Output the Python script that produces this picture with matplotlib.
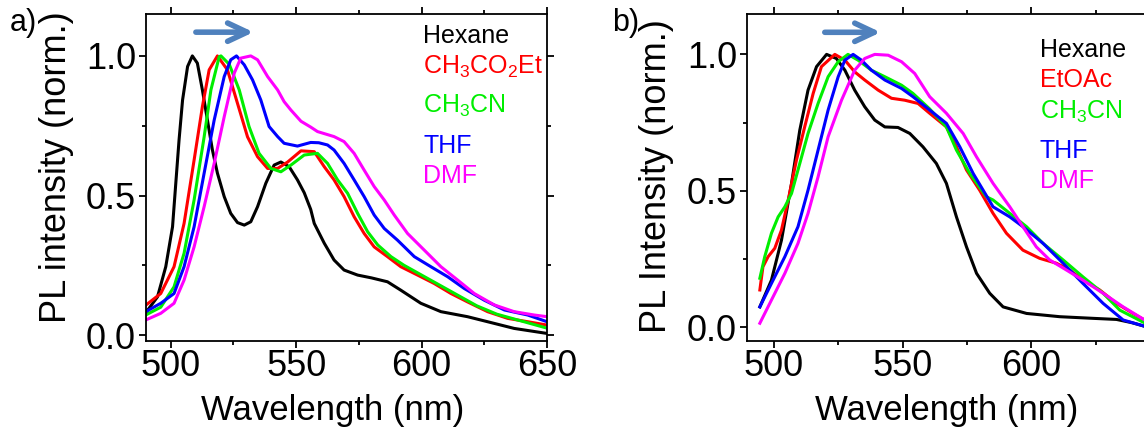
import matplotlib
matplotlib.use("Agg")
import matplotlib.pyplot as plt
from matplotlib.ticker import MultipleLocator, FixedLocator

plt.rcParams["font.family"] = ["Liberation Sans", "DejaVu Sans"]
plt.rcParams["mathtext.default"] = "regular"

# ---- panel a) data (read off the reference) ----
hex_a_x = [490, 494.7, 498, 500.7, 502, 503.3, 504.7, 506.7, 508.6, 510.6, 512.6, 514.6, 516.6,
           518.6, 521.3, 523.9, 526.6, 529.3, 531.9, 534.6, 537.9, 541.2, 543.9, 547.2, 550.5,
           553.2, 555.8, 557.2, 561.2, 565.1, 569.1, 574.5, 580, 586.4, 591.7, 599.7, 607.7,
           618.3, 626.3, 636.9, 650]
hex_a_y = [0.08, 0.137, 0.245, 0.388, 0.544, 0.699, 0.842, 0.962, 1.0, 0.974, 0.878, 0.771, 0.663,
           0.58, 0.496, 0.436, 0.403, 0.394, 0.406, 0.46, 0.544, 0.609, 0.62, 0.603, 0.556,
           0.51, 0.45, 0.40, 0.329, 0.269, 0.233, 0.215, 0.205, 0.191, 0.161, 0.114, 0.084,
           0.066, 0.048, 0.024, 0.006]

etac_a_x = [490, 496, 501.3, 505.3, 509.3, 512.6, 515.3, 518.6, 522.6, 526.6, 530.6, 534.6, 538.6,
            542.6, 546.6, 551.9, 557.2, 561.2, 565.1, 569.1, 573.1, 577.1, 581.1, 586.4, 591.7,
            598.4, 605, 611.7, 618.3, 626.3, 634.3, 642.3, 650]
etac_a_y = [0.107, 0.149, 0.245, 0.40, 0.627, 0.818, 0.95, 1.0, 0.95, 0.83, 0.71, 0.639, 0.597,
            0.597, 0.62, 0.66, 0.657, 0.603, 0.556, 0.496, 0.424, 0.364, 0.316, 0.281, 0.245,
            0.215, 0.185, 0.149, 0.119, 0.084, 0.06, 0.048, 0.036]

acn_a_x = [490, 496, 501.3, 505.3, 509.3, 513.3, 516, 519.3, 520, 523.3, 527.3, 531.2, 535.2,
           539.9, 543.9, 547.9, 553.2, 558.5, 562.5, 566.5, 570.5, 574.5, 578.5, 582.5, 587.8,
           593, 600, 607, 615, 622, 630, 640, 650]
acn_a_y = [0.072, 0.10, 0.173, 0.293, 0.484, 0.71, 0.878, 0.997, 1.0, 0.97, 0.878, 0.747, 0.651,
           0.597, 0.585, 0.609, 0.645, 0.651, 0.615, 0.556, 0.508, 0.436, 0.37, 0.323, 0.281,
           0.25, 0.215, 0.18, 0.14, 0.105, 0.075, 0.05, 0.025]

thf_a_x = [490, 496, 501.3, 505.3, 509.3, 513.3, 517.3, 521.3, 523.9, 526.2, 529.3, 532.6, 535.9,
           539.2, 542.6, 545.2, 550.5, 555.8, 559, 562.5, 565.1, 569.1, 573.1, 577.1, 581.1,
           585.1, 590.4, 597.1, 603.7, 610.4, 617, 625, 633, 642.3, 650]
thf_a_y = [0.084, 0.114, 0.149, 0.245, 0.388, 0.58, 0.77, 0.926, 0.986, 1.0, 0.968, 0.914, 0.842,
           0.747, 0.711, 0.687, 0.677, 0.69, 0.689, 0.681, 0.663, 0.615, 0.556, 0.496, 0.43,
           0.382, 0.34, 0.281, 0.245, 0.209, 0.167, 0.125, 0.09, 0.072, 0.048]

dmf_a_x = [490, 496, 501.3, 505.3, 509.3, 513.3, 517.3, 521.3, 525.3, 527.9, 531.9, 534.6, 538.6,
           542.6, 545.2, 547.9, 551.9, 555.8, 558.5, 565.1, 569.1, 573.1, 577.1, 581.1, 585.1,
           589.1, 594.4, 601, 607.7, 614.4, 621, 629, 636.9, 644.9, 650]
dmf_a_y = [0.054, 0.078, 0.114, 0.197, 0.316, 0.46, 0.615, 0.782, 0.938, 0.992, 1.0, 0.986, 0.926,
           0.878, 0.836, 0.806, 0.766, 0.745, 0.729, 0.711, 0.693, 0.651, 0.591, 0.532, 0.484,
           0.43, 0.364, 0.305, 0.245, 0.197, 0.149, 0.108, 0.084, 0.072, 0.066]

# ---- panel b) data ----
hex_b_x = [494.6, 499.1, 503, 506.9, 510.1, 513.3, 516.6, 520.5, 524.3, 527.6, 531.4, 535.3, 539.2,
           543.1, 548.2, 552.8, 557.9, 563.1, 567, 570.9, 574.8, 578.7, 583.8, 589, 598.1, 611,
           623.9, 633, 639, 645]
hex_b_y = [0.074, 0.172, 0.319, 0.527, 0.722, 0.869, 0.955, 1.0, 0.985, 0.942, 0.869, 0.808, 0.759,
           0.734, 0.732, 0.71, 0.661, 0.6, 0.527, 0.404, 0.294, 0.197, 0.124, 0.074, 0.05, 0.038,
           0.032, 0.028, 0.016, 0.0]

etac_b_x = [494.6, 495.8, 497.8, 500.4, 503, 505.6, 508.8, 512, 515.3, 518.5, 523.7, 527.6, 531.4,
            535.3, 540.5, 545.7, 550.8, 556, 560.5, 567, 570.9, 574.8, 579.9, 585.1, 590.3, 596.7,
            603.2, 609.7, 614.9, 620, 626.5, 633, 639.4, 645]
etac_b_y = [0.136, 0.221, 0.258, 0.289, 0.356, 0.466, 0.612, 0.734, 0.857, 0.955, 1.0, 0.979, 0.936,
            0.906, 0.869, 0.839, 0.832, 0.82, 0.784, 0.734, 0.661, 0.576, 0.502, 0.417, 0.344, 0.282,
            0.252, 0.234, 0.209, 0.172, 0.136, 0.087, 0.05, 0.02]

acn_b_x = [494.6, 496.5, 499.1, 501.7, 504.3, 506.9, 510.1, 513.3, 517.2, 521.1, 525, 528.8, 532.7,
           537.9, 543.1, 549.6, 554, 560.5, 567, 570.9, 576.1, 582.5, 585.1, 591.6, 598.1, 604.5,
           612.3, 620, 627.8, 634.3, 645]
acn_b_y = [0.179, 0.258, 0.344, 0.404, 0.441, 0.49, 0.6, 0.71, 0.82, 0.918, 0.973, 1.0, 0.979,
           0.942, 0.918, 0.887, 0.857, 0.80, 0.734, 0.649, 0.563, 0.478, 0.466, 0.417, 0.368, 0.307,
           0.246, 0.184, 0.124, 0.062, 0.01]

thf_b_x = [494.6, 499.1, 504.3, 509.4, 513.3, 517.2, 521.1, 525, 527.6, 530.8, 534, 537.9, 543.1,
           549.6, 554, 560.5, 567, 572.2, 577.4, 585.1, 591.6, 596.7, 604.5, 612.3, 620, 627.8,
           635.6, 645]
thf_b_y = [0.074, 0.16, 0.258, 0.368, 0.502, 0.649, 0.796, 0.918, 0.979, 1.0, 0.979, 0.942, 0.906,
           0.875, 0.845, 0.796, 0.747, 0.661, 0.563, 0.441, 0.404, 0.368, 0.307, 0.234, 0.16, 0.087,
           0.026, 0.0]

dmf_b_x = [494.6, 499.1, 504.3, 509.4, 513.3, 517.2, 521.1, 526.3, 531.4, 535.3, 539.2, 544.4, 549.6,
           554.7, 560.5, 567, 573.5, 578.7, 585.1, 591.6, 596.7, 601.9, 607.1, 613.6, 620, 627.8,
           635.6, 645]
dmf_b_y = [0.014, 0.099, 0.197, 0.307, 0.417, 0.551, 0.698, 0.832, 0.942, 0.985, 1.0, 0.997, 0.973,
           0.93, 0.845, 0.784, 0.71, 0.624, 0.527, 0.441, 0.368, 0.294, 0.246, 0.209, 0.172, 0.124,
           0.074, 0.02]

labels_a = ["Hexane", "CH$_3$CO$_2$Et", "CH$_3$CN", "THF", "DMF"]
labels_b = ["Hexane", "EtOAc", "CH$_3$CN", "THF", "DMF"]
colors = ["black", "#ff0000", "#00ee00", "#0000ff", "#ff00ff"]

series_a = [(hex_a_x, hex_a_y), (etac_a_x, etac_a_y), (acn_a_x, acn_a_y),
            (thf_a_x, thf_a_y), (dmf_a_x, dmf_a_y)]
series_b = [(hex_b_x, hex_b_y), (etac_b_x, etac_b_y), (acn_b_x, acn_b_y),
            (thf_b_x, thf_b_y), (dmf_b_x, dmf_b_y)]

W, H = 1144, 430
fig = plt.figure(figsize=(W / 100, H / 100), dpi=100)


def px_axes(left, top, right, bottom):
    return fig.add_axes([left / W, 1 - bottom / H, (right - left) / W, (bottom - top) / H])


def style_axes(ax, xticks):
    for side in ["top", "right", "bottom", "left"]:
        ax.spines[side].set_linewidth(1.3)
    ax.xaxis.set_major_locator(FixedLocator(xticks))
    ax.xaxis.set_minor_locator(MultipleLocator(25))
    ax.yaxis.set_major_locator(FixedLocator([0.0, 0.5, 1.0]))
    ax.yaxis.set_minor_locator(MultipleLocator(0.25))
    ax.set_yticklabels(["0.0", "0.5", "1.0"])
    ax.tick_params(which="both", direction="out", top=True, right=True, width=1.3)
    ax.tick_params(which="major", length=5, labelsize=26, pad=2)
    ax.tick_params(which="minor", length=3)
    ax.tick_params(axis="x", which="major", pad=1)


ax_a = px_axes(145.7, 14.3, 547.0, 340.7)
for (x, y), c in zip(series_a, colors):
    ax_a.plot(x, y, color=c, lw=2.2)
ax_a.set_xlim(490, 650)
ax_a.set_ylim(-0.02, 1.149)
style_axes(ax_a, [500, 550, 600, 650])
ax_a.annotate("", xy=(533, 1.085), xytext=(510, 1.085),
              arrowprops=dict(arrowstyle="->, head_length=0.7, head_width=0.33",
                              lw=4, color="#4f81bd", mutation_scale=20, shrinkA=0, shrinkB=0))
for lab, c, yb in zip(labels_a, colors, [0.913, 0.819, 0.697, 0.576, 0.482]):
    ax_a.text(0.692, yb, lab, color=c, fontsize=18, transform=ax_a.transAxes, va="baseline")

ax_b = px_axes(746.7, 14.3, 1147.4, 340.7)
for (x, y), c in zip(series_b, colors):
    ax_b.plot(x, y, color=c, lw=2.2)
ax_b.set_xlim(489.5, 645)
ax_b.set_ylim(-0.05, 1.147)
style_axes(ax_b, [500, 550, 600, 650])
ax_b.annotate("", xy=(541.5, 1.081), xytext=(519.8, 1.081),
              arrowprops=dict(arrowstyle="->, head_length=0.7, head_width=0.33",
                              lw=4, color="#4f81bd", mutation_scale=20, shrinkA=0, shrinkB=0))
for lab, c, yb in zip(labels_b, colors, [0.870, 0.776, 0.681, 0.559, 0.467]):
    ax_b.text(0.731, yb, lab, color=c, fontsize=18, transform=ax_b.transAxes, va="baseline")

# axis titles and panel letters
fig.text(57 / W, 1 - 167.5 / H, "PL intensity (norm.)", rotation=90, fontsize=26,
         ha="center", va="center")
fig.text(656 / W, 1 - 176 / H, "PL Intensity (norm.)", rotation=90, fontsize=26,
         ha="center", va="center")
fig.text(333 / W, 1 - 420 / H, "Wavelength (nm)", fontsize=25, ha="center", va="baseline")
fig.text(947 / W, 1 - 420 / H, "Wavelength (nm)", fontsize=25, ha="center", va="baseline")
fig.text(10 / W, 1 - 31 / H, "a)", fontsize=22, va="baseline")
fig.text(612 / W, 1 - 31 / H, "b)", fontsize=22, va="baseline")

fig.savefig("out.png", dpi=100)
